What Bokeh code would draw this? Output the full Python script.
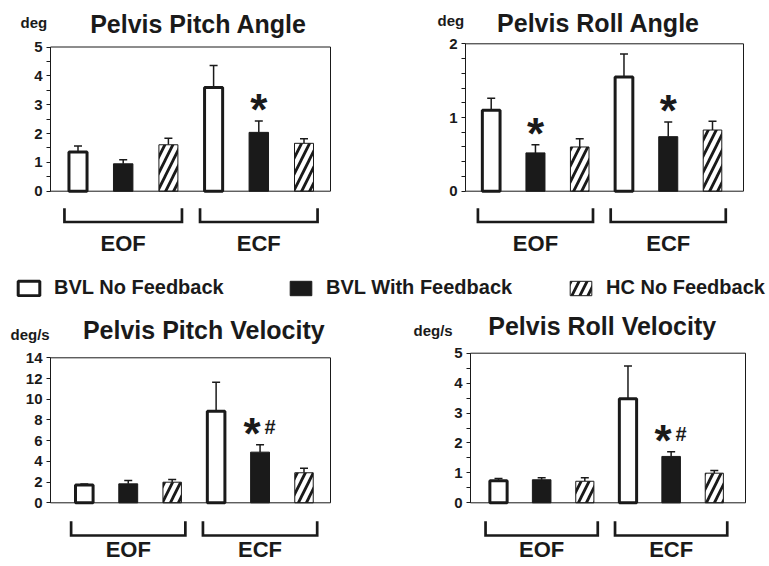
from bokeh.plotting import figure
from bokeh.layouts import column, row
from bokeh.models import (Range1d, FixedTicker, BoxAnnotation, Whisker, TeeHead,
                          ColumnDataSource, Legend, LegendItem, Label, LinearAxis)
from bokeh.core.properties import value
from bokeh.embed import file_html
from bokeh.resources import INLINE

# ---------------- data ----------------
groups = ["EOF", "ECF"]
series = ["BVL No Feedback", "BVL With Feedback", "HC No Feedback"]

# order: EOF(BVL no fb, BVL fb, HC), ECF(BVL no fb, BVL fb, HC)
pitch_angle_mean = [1.36, 0.95, 1.61, 3.60, 2.04, 1.66]
pitch_angle_sem = [0.21, 0.14, 0.23, 0.76, 0.39, 0.16]
pitch_angle_star = ["", "", "", "", "*", ""]
pitch_angle_hash = ["", "", "", "", "", ""]

roll_angle_mean = [1.10, 0.52, 0.60, 1.55, 0.74, 0.83]
roll_angle_sem = [0.16, 0.11, 0.11, 0.31, 0.20, 0.12]
roll_angle_star = ["", "*", "", "", "*", ""]
roll_angle_hash = ["", "", "", "", "", ""]

pitch_vel_mean = [1.72, 1.83, 1.99, 8.85, 4.89, 2.90]
pitch_vel_sem = [0.10, 0.32, 0.26, 2.80, 0.71, 0.44]
pitch_vel_star = ["", "", "", "", "*", ""]
pitch_vel_hash = ["", "", "", "", "#", ""]

roll_vel_mean = [0.74, 0.77, 0.72, 3.48, 1.55, 0.99]
roll_vel_sem = [0.07, 0.07, 0.12, 1.09, 0.16, 0.09]
roll_vel_star = ["", "", "", "", "*", ""]
roll_vel_hash = ["", "", "", "", "#", ""]

titles = ["Pelvis Pitch Angle", "Pelvis Roll Angle", "Pelvis Pitch Velocity", "Pelvis Roll Velocity"]
units = ["deg", "deg", "deg/s", "deg/s"]

pa_ticks = [0, 1, 2, 3, 4, 5]
pa_minor = [0.5, 1.5, 2.5, 3.5, 4.5]
ra_ticks = [0, 1, 2]
ra_minor = [0.2, 0.4, 0.6, 0.8, 1.2, 1.4, 1.6, 1.8]
pv_ticks = [0, 2, 4, 6, 8, 10, 12, 14]
pv_minor = []
rv_ticks = [0, 1, 2, 3, 4, 5]
rv_minor = [0.5, 1.5, 2.5, 3.5, 4.5]

# ---------------- style ----------------
FONT = "Liberation Sans"
INK = "#1a1a1a"
STYLES = [
    dict(fill_color="white", line_color=INK, line_width=3, width=0.40),
    dict(fill_color=INK, line_color=INK, line_width=1, width=0.43),
    dict(fill_color="white", line_color=INK, line_width=1, width=0.42,
         hatch_pattern="/", hatch_color=INK, hatch_scale=16, hatch_weight=2.8),
]
BASE_SHIFT = 0.37  # baseline sits this many em below the given y in the rendered svg


def bar_x():
    return [gi * 3 + si + 1 for gi in range(len(groups)) for si in range(len(series))]


def make_panel(geom, means, sems, stars, hashes, ymax, major, minor, title, unit):
    fx, fy, fw, fh = geom["fig"]
    fl, fr = geom["frame"]
    bt, bb = geom["box"]
    b1, b6 = geom["bars"]
    sp = (b6 - b1) / 5.0
    pxu = (bb - bt) / ymax

    def xd(px):
        return 1 + (px - b1) / sp

    def yd(py):
        return (bb - py) / pxu

    p = figure(width=fw, height=fh, output_backend="svg", toolbar_location=None,
               x_range=Range1d(xd(fx), xd(fx + fw)), y_range=Range1d(yd(fy + fh), yd(fy)),
               x_axis_location=None, y_axis_location=None)
    p.min_border = 0
    p.outline_line_color = None
    p.grid.visible = False

    ax = LinearAxis(fixed_location=xd(fl))
    ax.ticker = FixedTicker(ticks=major, minor_ticks=minor)
    ax.bounds = (0, ymax)
    ax.axis_line_color = INK
    ax.major_tick_line_color = INK
    ax.minor_tick_line_color = INK
    ax.major_tick_in = 0
    ax.major_tick_out = 4
    ax.minor_tick_in = 0
    ax.minor_tick_out = 4
    ax.major_label_standoff = 4
    ax.major_label_text_font = FONT
    ax.major_label_text_font_style = "bold"
    ax.major_label_text_font_size = "15px"
    ax.major_label_text_color = INK
    p.add_layout(ax, "left")

    p.add_layout(BoxAnnotation(left=xd(fl), right=xd(fr), bottom=0, top=ymax,
                               fill_alpha=0, line_color=INK, line_width=1, line_alpha=1))

    xs = bar_x()
    uppers = [m + s for m, s in zip(means, sems)]

    err_src = ColumnDataSource(dict(x=xs, top=means, upper=uppers))
    p.add_layout(Whisker(source=err_src, base="x", lower="top", upper="upper",
                         dimension="height", lower_head=None,
                         upper_head=TeeHead(size=8, line_width=1.5, line_color=INK),
                         line_width=1.5, line_color=INK))

    for si in range(len(series)):
        idx = [gi * 3 + si for gi in range(len(groups))]
        src = ColumnDataSource(dict(x=[xs[i] for i in idx], top=[means[i] for i in idx]))
        p.vbar(x="x", top="top", bottom=0, source=src, **STYLES[si])

    # significance marks (positions in px relative to the error-bar top)
    sx, sy, hx, hy = [], [], [], []
    for i in range(len(xs)):
        off = 0.0
        if hashes[i]:
            off = -8 / sp
            hx.append(xs[i] + 10 / sp)
            hy.append(uppers[i] + 17.5 / pxu)
        if stars[i]:
            sx.append(xs[i] + off)
            sy.append(uppers[i] + 11.6 / pxu)
    if sx:
        p.text(x=sx, y=sy, text=["*"] * len(sx), text_align="center",
               text_baseline="alphabetic", text_font=value(FONT), text_font_style="bold",
               text_font_size="44px", text_color=INK)
    if hx:
        p.text(x=hx, y=hy, text=["#"] * len(hx), text_align="center",
               text_baseline="alphabetic", text_font=value(FONT), text_font_style="bold",
               text_font_size="20px", text_color=INK)

    # group brackets and labels
    by0, by1 = geom["bracket"]
    bxs, bys, lx = [], [], []
    for gi in range(len(groups)):
        a = xs[gi * 3] - 0.3
        b = xs[gi * 3 + 2] + 0.3
        bxs.append([a, a, b, b])
        bys.append([yd(by0), yd(by1), yd(by1), yd(by0)])
        lx.append(xs[gi * 3 + 1])
    p.multi_line(xs=bxs, ys=bys, line_color=INK, line_width=2.7, line_join="miter")
    p.text(x=lx, y=[yd(geom["label"] - BASE_SHIFT * 22)] * len(lx), text=groups,
           text_align="center", text_baseline="alphabetic", text_font=value(FONT),
           text_font_style="bold", text_font_size="22px", text_color=INK)

    tx, tb = geom["title"]
    p.add_layout(Label(x=xd(tx), y=yd(tb - BASE_SHIFT * 25), text=title, text_align="center",
                       text_baseline="alphabetic", text_font=FONT, text_font_style="bold",
                       text_font_size="25px", text_color=INK))
    ux, ub = geom["unit"]
    p.add_layout(Label(x=xd(ux), y=yd(ub - BASE_SHIFT * 15), text=unit, text_align="left",
                       text_baseline="alphabetic", text_font=FONT, text_font_style="bold",
                       text_font_size="15px", text_color=INK))
    return p


G1 = dict(fig=(0, 0, 392, 265), frame=(50, 330), box=(46.5, 190.7), bars=(77.5, 303.5),
          bracket=(207.7, 221.5), label=251, title=(198, 32.3), unit=(20, 28))
G2 = dict(fig=(392, 0, 374, 265), frame=(465, 743), box=(43.3, 190.7), bars=(490.7, 712),
          bracket=(207.7, 221.5), label=251, title=(598, 31.7), unit=(437, 25.5))
G3 = dict(fig=(0, 305, 392, 259), frame=(50, 330), box=(357.3, 502.3), bars=(83.8, 303.5),
          bracket=(520.7, 535), label=557, title=(203.3, 338.3), unit=(10, 340))
G4 = dict(fig=(392, 305, 374, 259), frame=(470, 745), box=(352.7, 502.3), bars=(498, 713.8),
          bracket=(520.7, 535), label=557, title=(601.7, 334.5), unit=(413, 335.7))

p1 = make_panel(G1, pitch_angle_mean, pitch_angle_sem, pitch_angle_star, pitch_angle_hash,
                5, pa_ticks, pa_minor, titles[0], units[0])
p2 = make_panel(G2, roll_angle_mean, roll_angle_sem, roll_angle_star, roll_angle_hash,
                2, ra_ticks, ra_minor, titles[1], units[1])
p3 = make_panel(G3, pitch_vel_mean, pitch_vel_sem, pitch_vel_star, pitch_vel_hash,
                14, pv_ticks, pv_minor, titles[2], units[2])
p4 = make_panel(G4, roll_vel_mean, roll_vel_sem, roll_vel_star, roll_vel_hash,
                5, rv_ticks, rv_minor, titles[3], units[3])

# ---------------- legend strip ----------------
# hidden proxy renderers (real series data) supply the legend swatches
leg = figure(width=766, height=40, output_backend="svg", toolbar_location=None,
             x_range=Range1d(0, 7), y_range=Range1d(0, 5),
             x_axis_location=None, y_axis_location=None)
leg.min_border = 0
leg.outline_line_color = None
leg.grid.visible = False
leg_pos = [(15, 6), (287, 6), (567, 6)]
xs_all = bar_x()
for si, name in enumerate(series):
    idx = [gi * 3 + si for gi in range(len(groups))]
    src = ColumnDataSource(dict(x=[xs_all[i] for i in idx],
                                top=[pitch_angle_mean[i] for i in idx]))
    r = leg.vbar(x="x", top="top", bottom=0, source=src, visible=False, **STYLES[si])
    lg = Legend(items=[LegendItem(label=name, renderers=[r])], location=leg_pos[si],
                orientation="horizontal", glyph_width=27, glyph_height=18,
                label_standoff=12, padding=0, margin=0, spacing=0,
                border_line_color=None, background_fill_alpha=0,
                inactive_fill_alpha=0,
                label_text_font=FONT, label_text_font_style="bold",
                label_text_font_size="20px", label_text_color=INK, label_height=18)
    leg.add_layout(lg)

layout = column(row(p1, p2), leg, row(p3, p4))
open("out.html", "w").write(file_html(layout, INLINE))
